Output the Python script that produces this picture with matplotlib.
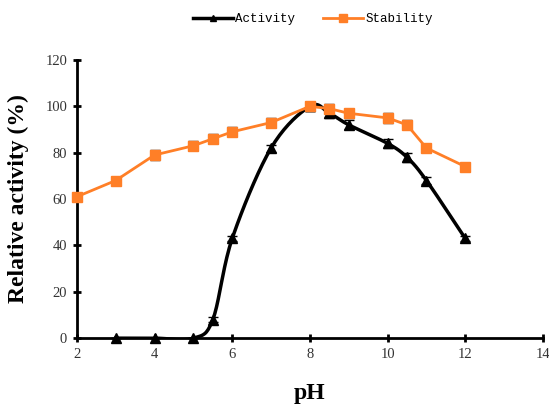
import numpy as np
import matplotlib
matplotlib.use('Agg')
import matplotlib.pyplot as plt
from matplotlib.lines import Line2D

ph_act = [3, 4, 5, 5.5, 6, 7, 8, 8.5, 9, 10, 10.5, 11, 12]
activity = [0, 0, 0, 8, 43, 82, 100, 97, 92, 84, 78, 68, 43]
act_err = [0, 0, 0, 1, 1, 1.5, 2, 2, 2, 2, 2, 1.5, 1]

ph_stab = [2, 3, 4, 5, 5.5, 6, 7, 8, 8.5, 9, 10, 10.5, 11, 12]
stability = [61, 68, 79, 83, 86, 89, 93, 100, 99, 97, 95, 92, 82, 74]
stab_err = [1, 1.5, 2, 2, 2, 2, 2, 2, 2, 2, 2, 2, 1.5, 1.5]


def smooth(x, y, n=20):
    # Catmull-Rom curve through the points (Excel style smoothed line)
    x = np.asarray(x, float); y = np.asarray(y, float)
    px = np.concatenate([[2 * x[0] - x[1]], x, [2 * x[-1] - x[-2]]])
    py = np.concatenate([[2 * y[0] - y[1]], y, [2 * y[-1] - y[-2]]])
    t = np.linspace(0, 1, n)[:, None]
    xs, ys = [], []
    for i in range(1, len(px) - 2):
        for p, out in ((px, xs), (py, ys)):
            p0, p1, p2, p3 = p[i - 1], p[i], p[i + 1], p[i + 2]
            c = 0.5 * ((2 * p1) + (-p0 + p2) * t + (2 * p0 - 5 * p1 + 4 * p2 - p3) * t ** 2
                       + (-p0 + 3 * p1 - 3 * p2 + p3) * t ** 3)
            out.append(c.ravel())
    return np.concatenate(xs), np.concatenate(ys)


fig = plt.figure(figsize=(5.49, 4.05), dpi=100, facecolor='white')
ax = fig.add_axes([0.140, 0.165, 0.849, 0.687])

orange = '#FF7F27'
sx, sy = smooth(ph_act, activity)
ax.plot(sx, sy, color='black', lw=2.5, zorder=2)
eb = ax.errorbar(ph_act, activity, yerr=act_err, fmt='^', color='black', ms=7,
                 ecolor='black', elinewidth=1, capsize=3.5, zorder=3.5)
for art in [eb[0], *eb[1], *eb[2]]:
    art.set_clip_on(False)
ax.plot(ph_stab, stability, color=orange, lw=2, zorder=4)
eb2 = ax.errorbar(ph_stab, stability, yerr=stab_err, fmt='s', color=orange, ms=7.5,
                  ecolor='black', elinewidth=1, capsize=3.5, zorder=5)
eb2[0].set_clip_on(False)

ax.set_xlim(2, 14)
ax.set_ylim(0, 120)
ax.set_xticks(range(2, 15, 2))
ax.set_yticks(range(0, 121, 20))
for s in ['top', 'right']:
    ax.spines[s].set_visible(False)
for s in ['left', 'bottom']:
    ax.spines[s].set_linewidth(2)
    ax.spines[s].set_zorder(3)
ax.tick_params(direction='inout', length=6, width=2, labelsize=10.5, pad=4,
               labelcolor='#333333')
for lbl in ax.get_xticklabels() + ax.get_yticklabels():
    lbl.set_fontfamily('Liberation Serif')
ax.set_xlabel('pH', fontsize=17, fontweight='bold', family='Liberation Serif', labelpad=16)
ax.set_ylabel('Relative activity (%)', fontsize=17, fontweight='bold',
              family='Liberation Serif', labelpad=12)

handles = [Line2D([], [], color='black', lw=2.5, marker='^', ms=5),
           Line2D([], [], color=orange, lw=2, marker='s', ms=6)]
fig.legend(handles, ['Activity', 'Stability'], loc='center', bbox_to_anchor=(0.57, 0.952),
           ncol=2, frameon=False, prop={'family': 'Liberation Mono', 'size': 9},
           handlelength=3.2, columnspacing=2.2, handletextpad=0.2)

plt.savefig('out.png', dpi=100, facecolor='white')
